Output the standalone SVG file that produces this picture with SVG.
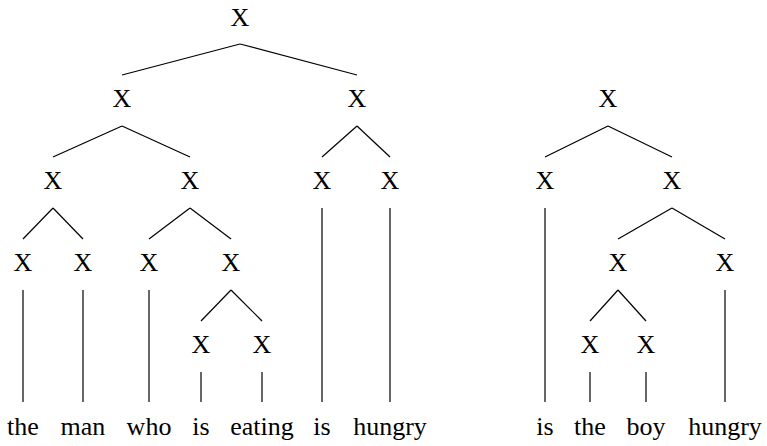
<svg xmlns="http://www.w3.org/2000/svg" width="767" height="446" viewBox="0 0 767 446">
<style>
line{stroke:#000;stroke-width:1.2}
</style>
<rect width="767" height="446" fill="#fff"/>
<g id="connectors">
<line x1="240" y1="44" x2="122" y2="75"/>
<line x1="240" y1="44" x2="357" y2="75"/>
<line x1="122" y1="126" x2="53" y2="157"/>
<line x1="122" y1="126" x2="190" y2="157"/>
<line x1="357" y1="126" x2="322" y2="157"/>
<line x1="357" y1="126" x2="390" y2="157"/>
<line x1="53" y1="208" x2="23" y2="239"/>
<line x1="53" y1="208" x2="83" y2="239"/>
<line x1="190" y1="208" x2="149" y2="239"/>
<line x1="190" y1="208" x2="231" y2="239"/>
<line x1="231" y1="290" x2="201" y2="321"/>
<line x1="231" y1="290" x2="262" y2="321"/>
<line x1="23" y1="290" x2="23" y2="402"/>
<line x1="83" y1="290" x2="83" y2="402"/>
<line x1="149" y1="290" x2="149" y2="402"/>
<line x1="201" y1="372" x2="201" y2="402"/>
<line x1="262" y1="372" x2="262" y2="402"/>
<line x1="322" y1="208" x2="322" y2="402"/>
<line x1="390" y1="208" x2="390" y2="402"/>
<line x1="608" y1="126" x2="545" y2="157"/>
<line x1="608" y1="126" x2="672" y2="157"/>
<line x1="672" y1="208" x2="618" y2="239"/>
<line x1="672" y1="208" x2="725" y2="239"/>
<line x1="618" y1="290" x2="590" y2="321"/>
<line x1="618" y1="290" x2="646" y2="321"/>
<line x1="545" y1="208" x2="545" y2="402"/>
<line x1="590" y1="372" x2="590" y2="402"/>
<line x1="646" y1="372" x2="646" y2="402"/>
<line x1="725" y1="290" x2="725" y2="402"/>
</g>
<g id="n_root"><text x="240" y="26" font-family="Liberation Serif" font-size="26" text-anchor="middle">X</text></g>
<g id="n_l"><text x="122" y="107" font-family="Liberation Serif" font-size="26" text-anchor="middle">X</text></g>
<g id="n_r"><text x="357" y="107" font-family="Liberation Serif" font-size="26" text-anchor="middle">X</text></g>
<g id="n_ll"><text x="53" y="189" font-family="Liberation Serif" font-size="26" text-anchor="middle">X</text></g>
<g id="n_lr"><text x="190" y="189" font-family="Liberation Serif" font-size="26" text-anchor="middle">X</text></g>
<g id="n_rl"><text x="322" y="189" font-family="Liberation Serif" font-size="26" text-anchor="middle">X</text></g>
<g id="n_rr"><text x="390" y="189" font-family="Liberation Serif" font-size="26" text-anchor="middle">X</text></g>
<g id="n_lll"><text x="23" y="271" font-family="Liberation Serif" font-size="26" text-anchor="middle">X</text></g>
<g id="n_llr"><text x="83" y="271" font-family="Liberation Serif" font-size="26" text-anchor="middle">X</text></g>
<g id="n_lrl"><text x="149" y="271" font-family="Liberation Serif" font-size="26" text-anchor="middle">X</text></g>
<g id="n_lrr"><text x="231" y="271" font-family="Liberation Serif" font-size="26" text-anchor="middle">X</text></g>
<g id="n_lrrl"><text x="201" y="353" font-family="Liberation Serif" font-size="26" text-anchor="middle">X</text></g>
<g id="n_lrrr"><text x="262" y="353" font-family="Liberation Serif" font-size="26" text-anchor="middle">X</text></g>
<g id="w1"><text x="23" y="435" font-family="Liberation Serif" font-size="26" text-anchor="middle">the</text></g>
<g id="w2"><text x="83" y="435" font-family="Liberation Serif" font-size="26" text-anchor="middle">man</text></g>
<g id="w3"><text x="149" y="435" font-family="Liberation Serif" font-size="26" text-anchor="middle">who</text></g>
<g id="w4"><text x="201" y="435" font-family="Liberation Serif" font-size="26" text-anchor="middle">is</text></g>
<g id="w5"><text x="262" y="435" font-family="Liberation Serif" font-size="26" text-anchor="middle">eating</text></g>
<g id="w6"><text x="322" y="435" font-family="Liberation Serif" font-size="26" text-anchor="middle">is</text></g>
<g id="w7"><text x="390" y="435" font-family="Liberation Serif" font-size="26" text-anchor="middle">hungry</text></g>
<g id="m_root"><text x="608" y="107" font-family="Liberation Serif" font-size="26" text-anchor="middle">X</text></g>
<g id="m_l"><text x="545" y="189" font-family="Liberation Serif" font-size="26" text-anchor="middle">X</text></g>
<g id="m_r"><text x="672" y="189" font-family="Liberation Serif" font-size="26" text-anchor="middle">X</text></g>
<g id="m_rl"><text x="618" y="271" font-family="Liberation Serif" font-size="26" text-anchor="middle">X</text></g>
<g id="m_rr"><text x="725" y="271" font-family="Liberation Serif" font-size="26" text-anchor="middle">X</text></g>
<g id="m_rll"><text x="590" y="353" font-family="Liberation Serif" font-size="26" text-anchor="middle">X</text></g>
<g id="m_rlr"><text x="646" y="353" font-family="Liberation Serif" font-size="26" text-anchor="middle">X</text></g>
<g id="v1"><text x="545" y="435" font-family="Liberation Serif" font-size="26" text-anchor="middle">is</text></g>
<g id="v2"><text x="590" y="435" font-family="Liberation Serif" font-size="26" text-anchor="middle">the</text></g>
<g id="v3"><text x="646" y="435" font-family="Liberation Serif" font-size="26" text-anchor="middle">boy</text></g>
<g id="v4"><text x="725" y="435" font-family="Liberation Serif" font-size="26" text-anchor="middle">hungry</text></g>
</svg>
